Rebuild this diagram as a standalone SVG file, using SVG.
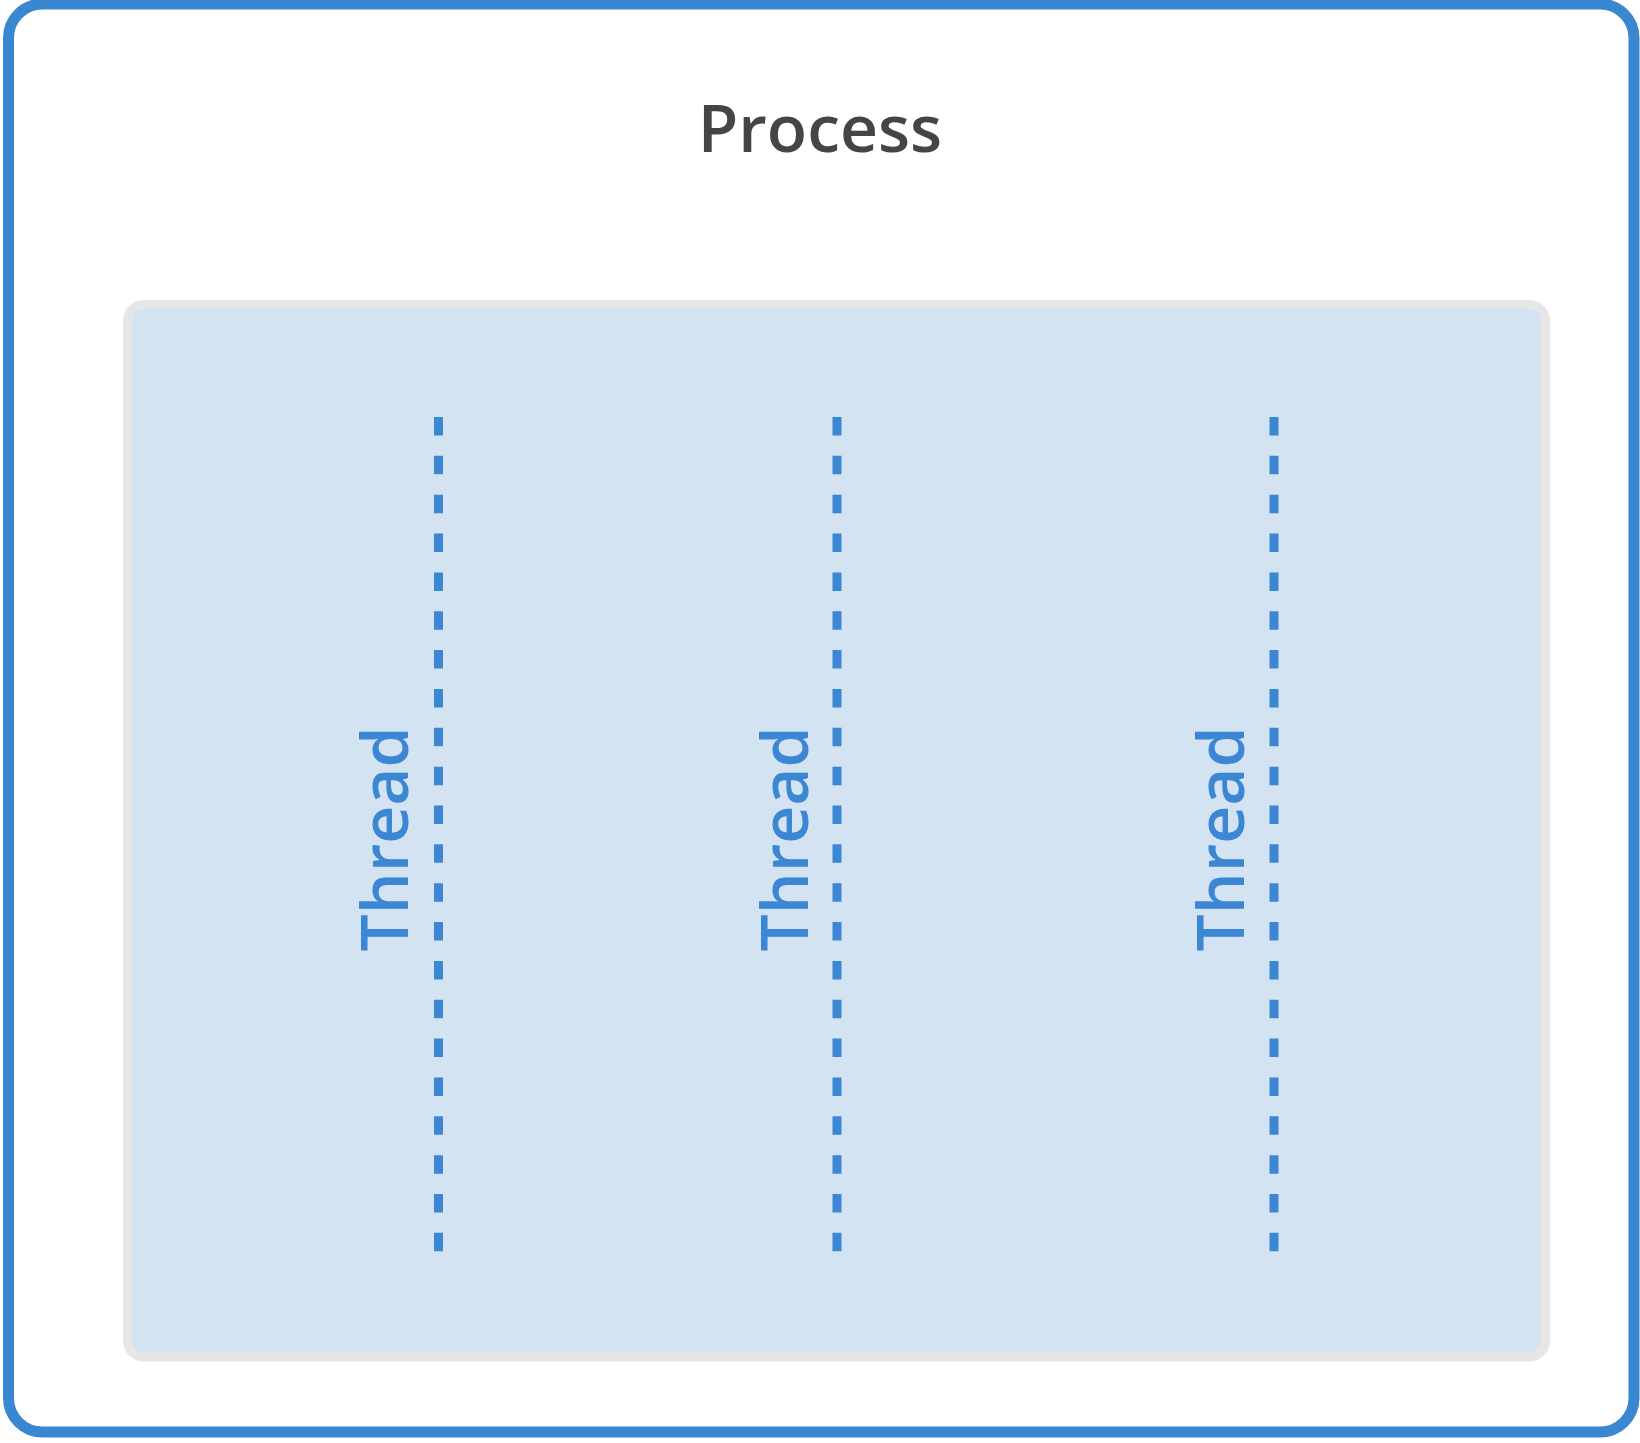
<svg xmlns="http://www.w3.org/2000/svg" width="1640" height="1443" viewBox="0 0 1640 1443">
<style>
.label{font-family:"Open Sans","Liberation Sans",sans-serif;font-size:66px;font-weight:600;}
.title{fill:#454545;}
.thread{fill:#3b87d3;}
.tline{stroke:#3b87d3;stroke-width:9;stroke-dasharray:18.5 20.35;fill:none;}
</style>
<rect width="1640" height="1443" fill="#ffffff"/>
<g id="process">
<rect x="8.5" y="4" width="1625.5" height="1428" rx="34" ry="34" fill="#ffffff" stroke="#3a87d1" stroke-width="11"/>
<text class="label title" x="820" y="152" text-anchor="middle">Process</text>
</g>
<g id="threads-area">
<rect x="127.5" y="304.5" width="1418" height="1052.5" rx="16" ry="16" fill="#d3e3f2" stroke="#e6e6e6" stroke-width="9"/>
</g>
<g id="thread1">
<text class="label thread" transform="translate(408,839) rotate(-90)" text-anchor="middle">Thread</text>
</g>
<g id="thread2">
<text class="label thread" transform="translate(808,839) rotate(-90)" text-anchor="middle">Thread</text>
</g>
<g id="thread3">
<text class="label thread" transform="translate(1244,839) rotate(-90)" text-anchor="middle">Thread</text>
</g>
<g id="connectors">
<line class="tline" x1="438.5" y1="417" x2="438.5" y2="1253"/>
<line class="tline" x1="837" y1="417" x2="837" y2="1253"/>
<line class="tline" x1="1274" y1="417" x2="1274" y2="1253"/>
</g>
</svg>
